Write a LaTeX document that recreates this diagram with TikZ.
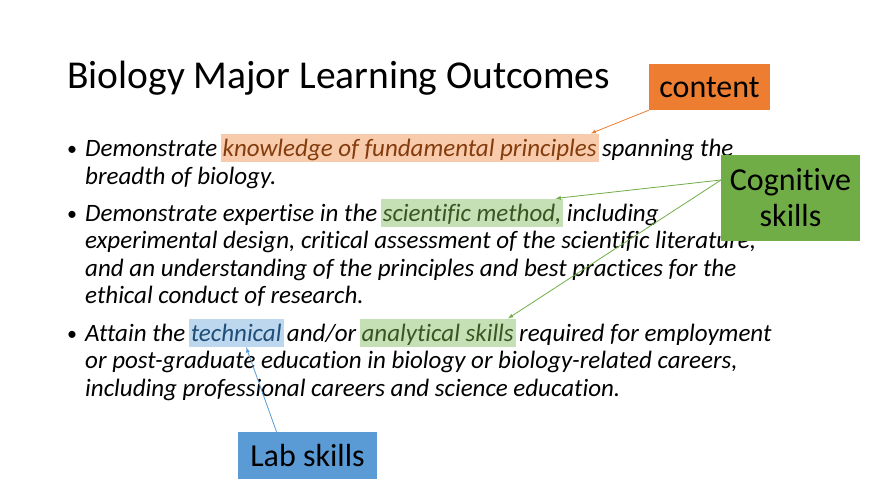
\documentclass[tikz,border=0pt]{standalone}
\usepackage{fontspec}
\setmainfont{Carlito}[Ligatures=NoCommon]
\begin{document}
\begin{tikzpicture}[x=1pt,y=-1pt,
  w/.style={inner sep=0pt,anchor=base west,font=\fontsize{25}{28}\selectfont\itshape},
  hl/.style={w,inner sep=2pt,inner ysep=5pt,text depth=1pt},
  box/.style={inner sep=0pt,font=\fontsize{32}{36}\selectfont,align=center},
  arr/.style={-latex,line width=0.8pt}]
\definecolor{oB}{HTML}{ED7D31}\definecolor{oL}{HTML}{F8CBAD}\definecolor{oT}{HTML}{843C0C}
\definecolor{gB}{HTML}{70AD47}\definecolor{gL}{HTML}{C5E0B4}\definecolor{gT}{HTML}{385723}
\definecolor{bB}{HTML}{5B9BD5}\definecolor{bL}{HTML}{BDD7EE}\definecolor{bT}{HTML}{1F4E79}
\useasboundingbox[fill=white] (0,0) rectangle (880,495);
\node[inner sep=0pt,anchor=base west,font=\fontsize{39.5}{44}\selectfont] (title) at (67,88) {Biology Major Learning Outcomes};
% bullets
\foreach \y/\n in {156/b1,221/b2,341/b3}{\node[inner sep=0pt,anchor=base west,font=\fontsize{20}{24}\selectfont] (\n) at (67,\y-1) {•};}
% line 1
\node[w] (l1a) at (85,156) {Demonstrate};
\node[hl,fill=oL,text=oT] (k) at ([xshift=3pt]l1a.base east) {knowledge of fundamental principles};
\node[w] (l1b) at ([xshift=3pt]k.base east) {spanning the};
\node[w] (l2) at (85,184) {breadth of biology.};
% line 2
\node[w] (l3a) at (85,221) {Demonstrate expertise in the};
\node[hl,fill=gL,text=gT] (sm) at ([xshift=3pt]l3a.base east) {scientific method,};
\node[w] (l3b) at ([xshift=3pt]sm.base east) {including};
\node[w] (l4) at (85,248) {experimental design, critical assessment of the scientific literature,};
\node[w] (l5) at (85,276) {and an understanding of the principles and best practices for the};
\node[w] (l6) at (85,303) {ethical conduct of research.};
% line 3
\node[w] (l7a) at (85,341) {Attain the};
\node[hl,fill=bL,text=bT] (tech) at ([xshift=3pt]l7a.base east) {technical};
\node[w] (l7b) at ([xshift=3pt]tech.base east) {and/or};
\node[hl,fill=gL,text=gT] (an) at ([xshift=3pt]l7b.base east) {analytical skills};
\node[w] (l7c) at ([xshift=3pt]an.base east) {required for employment};
\node[w] (l8) at (85,368) {or post-graduate education in biology or biology-related careers,};
\node[w] (l9) at (85,396) {including professional careers and science education.};
% boxes
\node[box,fill=oB,minimum width=121pt,minimum height=46pt] (content) at (709.5,87) {content};
\node[box,fill=gB,minimum width=139pt,minimum height=86pt] (cog) at (790.5,198) {Cognitive\\skills};
\node[box,fill=bB,minimum width=139pt,minimum height=47pt] (lab) at (307.5,455.5) {Lab skills};
\coordinate (cogL) at (721,180);
\draw[arr,oB] (content.south west) -- ([xshift=-8pt]k.north east);
\draw[arr,gB] (cogL) -- ([xshift=-8pt]sm.north east);
\draw[arr,gB] (cogL) -- ([xshift=-8pt]an.north east);
\draw[arr,bB] ([xshift=-31pt]lab.north) -- ([xshift=10pt]tech.south);
\end{tikzpicture}
\end{document}
